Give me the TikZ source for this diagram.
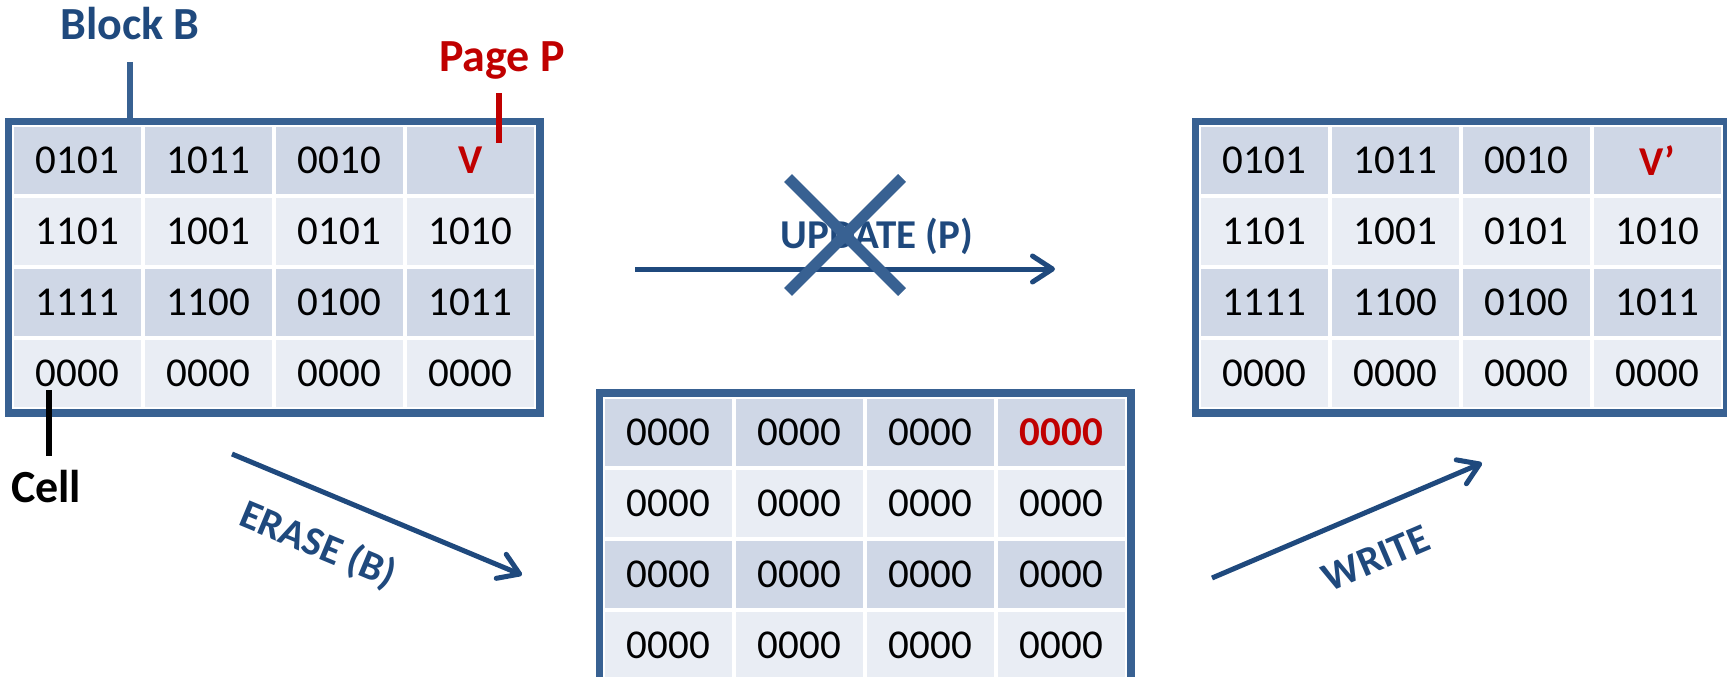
\documentclass[tikz,border=0pt]{standalone}
\usepackage{fontspec}
\setmainfont{Carlito}
\usetikzlibrary{matrix,fit,arrows.meta}

\definecolor{frameblue}{RGB}{56,97,146}
\definecolor{inkblue}{RGB}{31,73,125}
\definecolor{pagered}{RGB}{192,0,0}
\definecolor{rowdark}{RGB}{207,215,230}
\definecolor{rowlight}{RGB}{233,237,244}

\tikzset{
  block/.style={matrix of nodes, inner sep=0pt, column sep=0pt, row sep=0pt,
    nodes={minimum width=129pt, minimum height=69pt, inner sep=0pt,
           draw=white, line width=2pt, anchor=center,
           font=\fontsize{41}{49}\selectfont},
    row 1/.style={nodes={fill=rowdark}},
    row 2/.style={nodes={fill=rowlight}},
    row 3/.style={nodes={fill=rowdark}},
    row 4/.style={nodes={fill=rowlight}}},
  blockframe/.style={draw=frameblue, line width=7.5pt, inner sep=3.75pt},
  hot/.style={text=pagered, font=\fontsize{41}{49}\selectfont\bfseries},
  tag/.style={font=\fontsize{46}{55}\selectfont\bfseries, inner sep=0pt},
  op/.style={font=\fontsize{41}{49}\selectfont\bfseries, text=inkblue, inner sep=0pt},
  tick/.style={line width=6.5pt},
  flow/.style={draw=inkblue, line width=5pt,
    -{Straight Barb[length=20pt,width=26pt,round]}},
  cross/.style={draw=frameblue, line width=11pt},
}

\begin{document}
\begin{tikzpicture}[x=1pt,y=-1pt]
\useasboundingbox (0,0) rectangle (1727,677);

% block B before the update
\matrix (t1) [block] at (274,267) {
  0101 & 1011 & 0010 & |[hot]| V \\
  1101 & 1001 & 0101 & 1010 \\
  1111 & 1100 & 0100 & 1011 \\
  0000 & 0000 & 0000 & 0000 \\
};
\node[blockframe, fit=(t1-1-1)(t1-4-4)] (b1) {};

% block B after the erase
\matrix (t2) [block] at (865,538.5) {
  0000 & 0000 & 0000 & |[hot]| 0000 \\
  0000 & 0000 & 0000 & 0000 \\
  0000 & 0000 & 0000 & 0000 \\
  0000 & 0000 & 0000 & 0000 \\
};
\node[blockframe, fit=(t2-1-1)(t2-4-4)] (b2) {};

% block B after the write
\matrix (t3) [block] at (1461,267) {
  0101 & 1011 & 0010 & |[hot]| V’ \\
  1101 & 1001 & 0101 & 1010 \\
  1111 & 1100 & 0100 & 1011 \\
  0000 & 0000 & 0000 & 0000 \\
};
\node[blockframe, fit=(t3-1-1)(t3-4-4)] (b3) {};

% callouts
\node[tag, text=inkblue, anchor=base] (blk) at (130,40) {Block B};
\coordinate (blkfoot) at (130,62);
\draw[tick, frameblue] (blkfoot) -- (blkfoot |- b1.north);

\node[tag, text=pagered, anchor=base] (pg) at (502,72) {Page P};
\coordinate (pgtop) at (499,93);
\coordinate (pgend) at (499,143);
\draw[tick, pagered] (pgtop) -- (pgend);

\node[tag, anchor=base west] (celltag) at (11,502) {Cell};
\coordinate (celltop) at (49,390);
\coordinate (cellend) at (49,456);
\draw[tick, black] (celltop) -- (cellend);

% operations
\coordinate (upA) at (635,269);
\coordinate (upB) at (1055,269);
\draw[flow] (upA) -- (upB);
\node[op, anchor=base] (uplbl) at (877,248) {UPDATE (P)};
\draw[cross] (788,178) -- (902,292);
\draw[cross] (902,178) -- (788,292);

\coordinate (erA) at (232,454);
\coordinate (erB) at (522,575);
\draw[flow] (erA) -- (erB);
\node[op, rotate=-22.6] (erlbl) at (318,545) {ERASE (B)};

\coordinate (wrA) at (1212,578);
\coordinate (wrB) at (1482,463);
\draw[flow] (wrA) -- (wrB);
\node[op, rotate=23.1] (wrlbl) at (1376,558) {WRITE};
\end{tikzpicture}
\end{document}
